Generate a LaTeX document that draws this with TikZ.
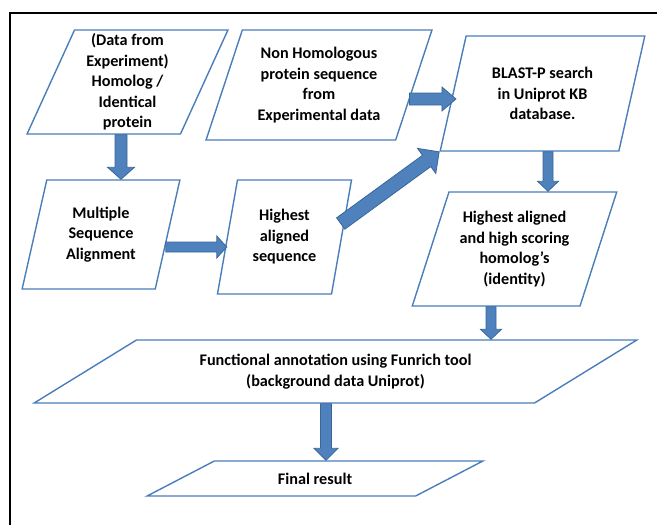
\documentclass[tikz,border=0pt]{standalone}
\usepackage{fontspec}
\setmainfont{Carlito}
\usepackage{tikz}
\usetikzlibrary{shapes.geometric,calc}

\definecolor{boxline}{HTML}{4A7EBB}
\definecolor{arrfill}{HTML}{4F81BD}
\definecolor{arrline}{HTML}{3A679A}

% block arrow from #2 to #3: half shaft, half head, head length
\tikzset{bshaft/.store in=\bsw, bhead/.store in=\bhw, bhlen/.store in=\bhl,
  bshaft=5.5pt, bhead=12pt, bhlen=11pt}
\newcommand{\barrow}[3][]{%
  \path[arr,#1] let \p1=(#2), \p2=(#3),
    \n1={atan2(\y2-\y1,\x2-\x1)}, \n2={veclen(\x2-\x1,\y2-\y1)} in
    [shift={(\p1)},rotate=\n1]
    (0pt,-\bsw) -- ({\n2-\bhl},-\bsw) -- ({\n2-\bhl},-\bhw) -- (\n2,0pt)
    -- ({\n2-\bhl},\bhw) -- ({\n2-\bhl},\bsw) -- (0pt,\bsw) -- cycle;}

\begin{document}
\begin{tikzpicture}[
  x=1pt,y=-1pt,
  font={\fontsize{16.2pt}{20.5pt}\selectfont\bfseries},
  box/.style={trapezium,trapezium stretches=true,draw=boxline,line width=1.4pt,
    fill=white,align=center,inner sep=1pt},
  arr/.style={fill=arrfill,draw=arrline,line width=0.8pt,line join=miter},
  frame/.style={line width=2pt}
]
\useasboundingbox (0,0) rectangle (657,525);
\draw[frame] (10,525) -- (10,13) -- (657,13);

\node[box,minimum width=201pt,minimum height=104pt,trapezium left angle=69,trapezium right angle=111]
  (dataexp) at (127.5,82) {(Data from\\Experiment)\\Homolog /\\Identical\\protein};
\node[box,minimum width=226pt,minimum height=110pt,trapezium left angle=69.1,trapezium right angle=110.9]
  (nonhom) at (319,85) {Non Homologous\\protein sequence\\from\\Experimental data};
\node[box,minimum width=205pt,minimum height=115pt,trapezium left angle=72.2,trapezium right angle=107.8]
  (blast) at (542.5,93.5) {BLAST-P search\\in Uniprot KB\\database.};
\node[box,minimum width=158pt,minimum height=109pt,trapezium left angle=74.1,trapezium right angle=105.9]
  (msa) at (101,234.5) {Multiple\\Sequence\\Alignment};
\node[box,minimum width=135pt,minimum height=114pt,trapezium left angle=76.2,trapezium right angle=103.8]
  (highseq) at (284.5,237) {Highest\\aligned\\sequence};
\node[box,minimum width=205pt,minimum height=114pt,trapezium left angle=68,trapezium right angle=112]
  (homolog) at (514.5,249) {Highest aligned\\and high scoring\\homolog's\\(identity)};
\node[box,minimum width=603pt,minimum height=63pt,trapezium left angle=27.5,trapezium right angle=152.5]
  (funrich) at (335.5,371.5) {Functional annotation using Funrich tool\\(background data Uniprot)};
\node[box,minimum width=336pt,minimum height=35pt,trapezium left angle=27.9,trapezium right angle=152.1]
  (final) at (315,478.5) {Final result};

\coordinate (a1) at ([xshift=-6.5pt]dataexp.south);
\coordinate (a2) at ([shift={(-2.5,12.5)}]msa.east);
\coordinate (a3) at ([shift={(-5,14)}]nonhom.east);
\coordinate (a4) at ([shift={(-1.5,-13.5)}]highseq.east);
\coordinate (a5) at ([xshift=5.5pt]blast.south);
\coordinate (a6) at ([xshift=-23.5pt]homolog.south);
\coordinate (a7) at ([xshift=-9.5pt]funrich.south);

\barrow[bshaft=6pt,bhead=13.5pt,bhlen=12pt]{a1}{a1 |- msa.north}
\barrow[bshaft=5pt,bhead=11pt,bhlen=10pt]{a2}{a2 -| highseq.west}
\barrow[bshaft=6pt,bhead=12pt,bhlen=14pt]{a3}{$(a3 -| blast.west)+(3.5,0)$}
\barrow[bshaft=7pt,bhead=15.5pt,bhlen=15.5pt]{a4}{blast.bottom left corner}
\barrow[bshaft=5pt,bhead=10.5pt,bhlen=10pt]{a5}{a5 |- homolog.north}
\barrow[bshaft=5pt,bhead=10.5pt,bhlen=10pt]{a6}{a6 |- funrich.north}
\barrow[bshaft=5.5pt,bhead=12pt,bhlen=12pt]{a7}{a7 |- final.north}
\end{tikzpicture}
\end{document}
